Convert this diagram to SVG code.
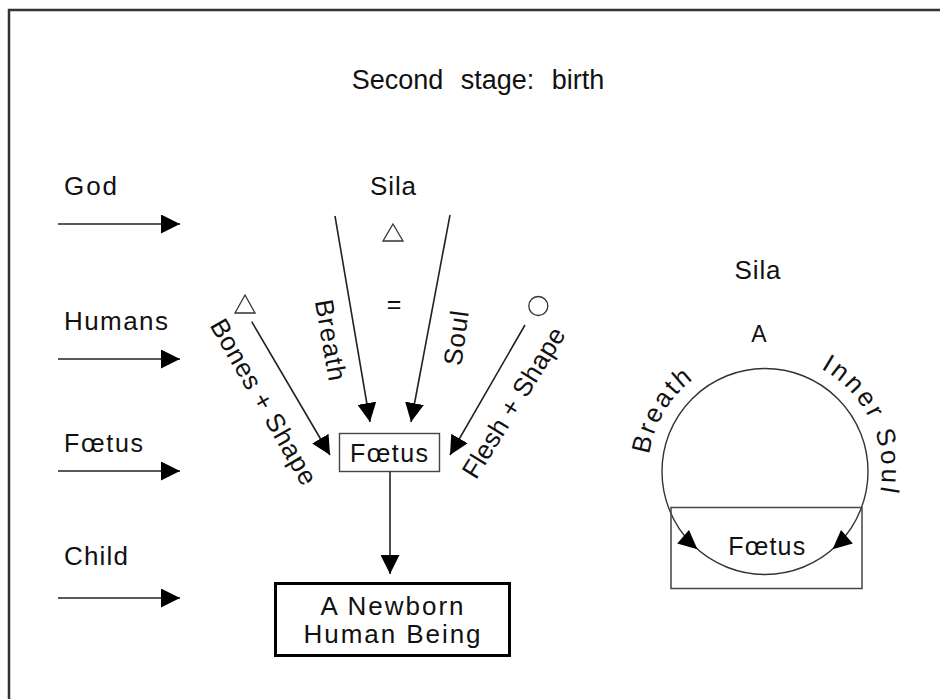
<svg xmlns="http://www.w3.org/2000/svg" width="940" height="699" viewBox="0 0 940 699">
<style>
  text { font-family: "Liberation Sans", Arial, sans-serif; font-size: 26px; fill: #111; }
  .c { text-anchor: middle; }
  .ar { stroke: #222; stroke-width: 1.6; fill: none; marker-end: url(#ah); }
  .sym { stroke: #333; stroke-width: 1.3; fill: none; }
</style>
<defs>
  <marker id="ah" markerUnits="userSpaceOnUse" viewBox="0 0 19 19" markerWidth="19" markerHeight="19" refX="19" refY="9.5" orient="auto">
    <path d="M0,0 L19,9.5 L0,19 z" fill="#000"/>
  </marker>
  <path id="arcL" d="M648,471.5 A117,117 0 0 1 765,354.5"/>
  <path id="arcR" d="M765,354.5 A117,117 0 0 1 866.3,530"/>
</defs>
<rect width="940" height="699" fill="#fff"/>
<rect x="9" y="10" width="960" height="720" fill="none" stroke="#333" stroke-width="2.5"/>

<g id="title"><text class="c" x="478" y="89" style="font-size:27px" word-spacing="10">Second stage: birth</text></g>

<g id="legend">
  <text x="64" y="195" textLength="53">God</text>
  <text x="64" y="330" textLength="104">Humans</text>
  <text x="64" y="452" style="font-size:25px" textLength="79">Fœtus</text>
  <text x="64" y="565" textLength="64">Child</text>
</g>

<g id="sila-top">
  <text class="c" x="393" y="195" textLength="46">Sila</text>
  <polygon class="sym" points="393,224 403,241 383,241"/>
  <text class="c" x="394" y="313" style="font-size:25px">=</text>
</g>

<g id="bones-source"><polygon class="sym" points="245,295 255,313 235,313"/></g>
<g id="flesh-source"><circle class="sym" cx="538.3" cy="306" r="9.5"/></g>

<g id="foetus">
  <rect x="339.5" y="433.5" width="100" height="38" fill="#fff" stroke="#444" stroke-width="1.4"/>
  <text class="c" x="389" y="462" style="font-size:25px" textLength="78">Fœtus</text>
</g>

<g id="newborn">
  <rect x="275.5" y="583.5" width="234" height="72" fill="#fff" stroke="#000" stroke-width="3"/>
  <text class="c" x="392" y="615" textLength="143">A Newborn</text>
  <text class="c" x="392" y="643" textLength="177">Human Being</text>
</g>

<g id="connectors">
  <line class="ar" x1="58" y1="224" x2="180" y2="224"/>
  <line class="ar" x1="58" y1="359" x2="180" y2="359"/>
  <line class="ar" x1="58" y1="471" x2="180" y2="471"/>
  <line class="ar" x1="58" y1="598" x2="180" y2="598"/>
  <line class="ar" x1="335" y1="216" x2="370" y2="422"/>
  <line class="ar" x1="450" y1="215" x2="411" y2="422"/>
  <line class="ar" x1="251.7" y1="321.7" x2="330" y2="455"/>
  <line class="ar" x1="525" y1="325" x2="450" y2="455"/>
  <line class="ar" x1="390" y1="471.5" x2="390" y2="574"/>
</g>

<g id="connector-labels">
  <text class="c" transform="translate(321.8,341.6) rotate(80)" textLength="82">Breath</text>
  <text class="c" transform="translate(465,339.3) rotate(-82)" textLength="55">Soul</text>
  <text class="c" transform="translate(256,406.2) rotate(60)" textLength="187">Bones + Shape</text>
  <text class="c" transform="translate(521.1,407.3) rotate(-58.3)" textLength="172">Flesh + Shape</text>
</g>

<g id="sila-cycle">
  <text class="c" x="757.5" y="279" textLength="46">Sila</text>
  <text class="c" x="759" y="342" style="font-size:23px">A</text>
  <circle cx="765" cy="471.5" r="103" fill="none" stroke="#333" stroke-width="1.4"/>
  <polygon points="697.4,549.2 689,529.9 677.2,543.5" fill="#000"/>
  <polygon points="832.6,549.2 852.8,543.5 841,529.9" fill="#000"/>
  <text letter-spacing="2.5"><textPath href="#arcL" startOffset="17">Breath</textPath></text>
  <text letter-spacing="3"><textPath href="#arcR" startOffset="58">Inner Soul</textPath></text>
</g>

<g id="foetus-right">
  <rect x="671" y="507.5" width="191" height="81" fill="none" stroke="#444" stroke-width="1.5"/>
  <text class="c" x="766.7" y="555" style="font-size:25px" textLength="77">Fœtus</text>
</g>
</svg>
